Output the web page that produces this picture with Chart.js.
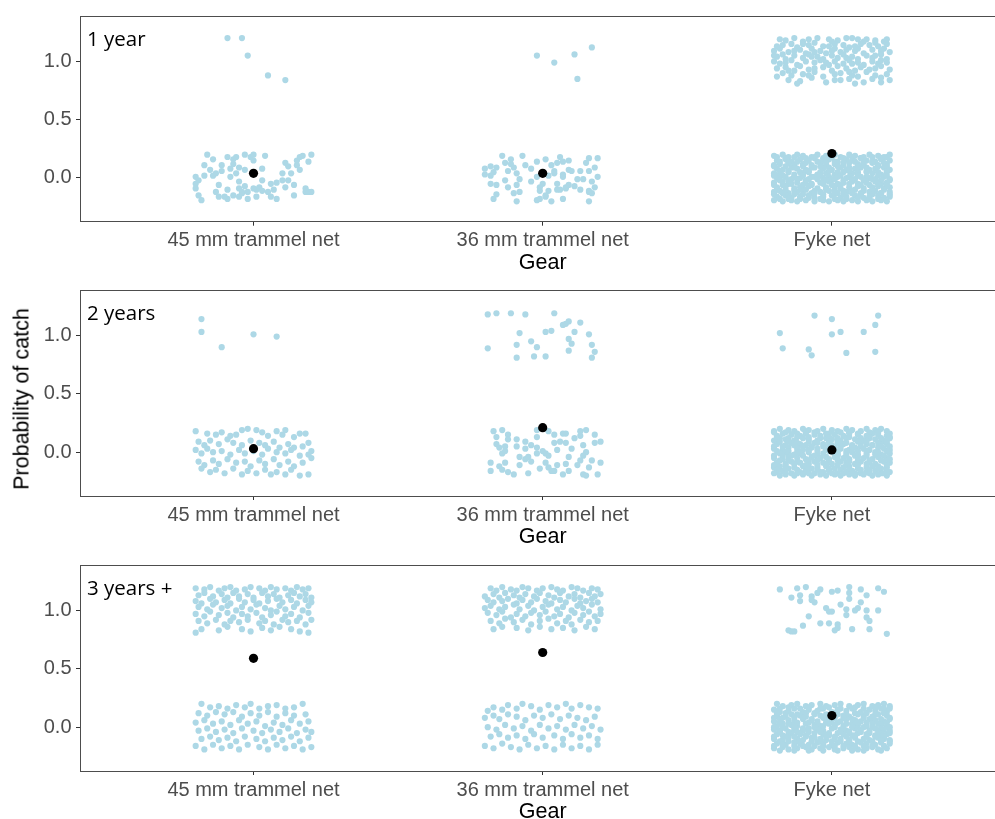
<!DOCTYPE html>
<html>
<head>
<meta charset="utf-8">
<script src="https://cdn.jsdelivr.net/npm/chart.js@4.4.1/dist/chart.umd.min.js"></script>
<style>
  html, body { margin: 0; padding: 0; background: #fff; }
  #wrap { position: relative; width: 995px; height: 819px; overflow: hidden; }
  #wrap canvas { position: absolute; left: 0; }
  #ytitle { position: absolute; left: 22px; top: 399px; width: 0; height: 0; }
  #ytitle span {
    position: absolute; left: 0; top: 0; white-space: nowrap;
    transform: translate(-50%, -50%) rotate(-90deg);
    font: 21.5px "Liberation Sans", Arial, sans-serif; color: #000;
  }
</style>
</head>
<body>
<div id="wrap">
  <canvas id="p1" width="1010" height="276" style="top:0px"></canvas>
  <canvas id="p2" width="1010" height="276" style="top:274px"></canvas>
  <canvas id="p3" width="1010" height="276" style="top:549px"></canvas>
  <div id="ytitle"><span>Probability of catch</span></div>
</div>
<script>
// Gear categories and age classes
const gearLabels = ['45 mm trammel net', '36 mm trammel net', 'Fyke net'];
const ageClasses = ['1 year', '2 years', '3 years +'];
const yTickValues = [0, 0.5, 1];

// Estimated probability of catch per gear (black points)
const meanAge1 = [0.04, 0.04, 0.21];
const meanAge2 = [0.03, 0.21, 0.02];
const meanAge3 = [0.59, 0.64, 0.10];

// Jittered observations: flat lists of (x offset, y offset) pairs in hundredths,
// around gear position and outcome (1 = caught, 0 = not caught)
const age1Mesh45Caught = [-9,20, -4,20, -2,5, 5,-12, 11,-16];
const age1Mesh45Missed = [-20,1, -20,-5, -20,-9, -19,-15, -18,-19, -19,-2, -17,11, -16,20, -15,7, -14,16, -13,4, -12,-6, -12,-16, -11,11, -11,6, -9,18, -8,8, -8,1, -9,-10, -9,-18, -7,16, -7,12, -6,18, -6,4, -5,-3, -5,-16, -4,-13, -3,20, -3,-7, -2,-18, -2,-12, -1,18, 0,20, 0,15, 1,-10, 1,-16, 2,-8, 3,8, 3,-2, 4,19, 5,-12, 6,-5, 7,-10, 8,-18, 8,-4, 10,4, 11,13, 11,-8, 12,10, 12,-2, 13,4, 14,-6, 14,-15, 15,11, 15,15, 16,7, 16,18, 17,19, 18,-9, 18,-12, 19,14, 19,-12, 20,20, 20,-12, -7,-15, -4,-12, 0,-9, 3,-11, 6,-16, -13,-12, -17,2, -3,7, -5,9, 10,-2, -14,2, -10,-16, -5,-9];
const age1Mesh36Caught = [-2,5, 4,-1, 11,6, 17,12, 12,-15];
const age1Mesh36Missed = [-14,19, -11,16, -7,19, -2,14, 1,16, 6,18, 7,14, 9,15, 16,17, 19,17, -18,10, -16,9, -13,13, -11,12, -6,11, -4,8, 3,11, 4,6, 5,13, 9,7, 15,13, 18,9, -20,3, -18,2, -17,5, -12,6, -9,4, 4,4, 7,3, 10,6, 13,6, 14,-1, 16,6, 19,1, -8,-1, -13,-2, -4,-3, -2,1, 2,2, 7,1, 12,-1, 17,-3, -18,-5, -16,-6, -9,-6, 0,-5, 5,-5, 8,-8, 9,-6, 11,-7, 16,-11, 18,-8, -16,-14, -10,-13, -8,-12, -1,-11, 1,-15, 2,-11, 5,-10, 6,-10, 8,-9, 17,-13, -17,-18, -9,-20, -2,-19, -1,-18, 3,-20, 7,-18, 16,-20, 16,-12, -20,8, -10,9, -1,-8, -12,-8, 13,-10, 1,-16];
const age1FykeCaught = [-16,18, -13,20, -10,17, -5,20, -1,19, 2,18, 5,20, 7,20, 9,19, 12,19, 15,18, 18,17,
  -19,13, -14,15, -12,12, -8,14, -6,16, -3,13, 1,15, 4,14, 6,12, 10,15, 13,14, 16,13, 19,15,
  -20,9, -18,11, -15,8, -11,10, -9,7, -7,11, -4,9, -2,7, 1,11, 3,8, 5,10, 8,9, 11,7, 14,10, 17,9, 20,8,
  -19,4, -17,6, -16,2, -13,5, -10,3, -8,6, -5,4, -3,2, 0,5, 2,3, 4,6, 7,4, 9,2, 12,5, 14,3, 17,6, 19,2,
  -20,0, -18,-2, -14,1, -12,-3, -9,0, -6,-1, -4,1, -1,-3, 1,0, 4,-2, 6,1, 9,-1, 11,-3, 14,0, 16,-2, 19,-1,
  -19,-6, -16,-5, -13,-8, -11,-4, -8,-7, -3,-5, 0,-8, 2,-4, 5,-6, 8,-8, 10,-5, 13,-7, 17,-4, 20,-7,
  -17,-10, -14,-12, -10,-11, -6,-9, -3,-13, 1,-11, 3,-10, 7,-12, 12,-9, 15,-12, 19,-11,
  -15,-16, -11,-17, -7,-14, -2,-18, 3,-16, 6,-15, 8,-19, 14,-15, 17,-18, 20,-16,
  -18,19, -8,19, 0,17, 11,17, 19,19, -17,14, -10,15, -1,13, 8,13, 15,16, -13,9, -6,8, 0,9, 9,11, 18,11,
  -20,5, -7,4, 5,3, 15,5, -16,-1, -2,-1, 7,-2, 17,1, -15,-8, -6,-6, 6,-9, 15,-6, -19,-13, -8,-12, 9,-13,
  17,-14, -12,-19, 1,-16, 11,-18];
const age1FykeMissed = [-20,19, -17,20, -15,18, -12,20, -10,19, -7,18, -5,20, -2,19, 1,20, 3,18, 6,20, 8,19, 11,18, 13,20, 16,19, 18,18, 20,20,
  -19,15, -16,16, -14,14, -11,16, -8,15, -6,17, -3,15, -1,16, 2,14, 5,16, 7,15, 10,17, 12,15, 15,14, 17,16, 20,15,
  -20,11, -18,12, -15,13, -13,11, -10,12, -7,11, -4,13, -2,11, 1,12, 4,11, 6,13, 9,12, 11,11, 14,13, 16,11, 19,12,
  -19,8, -17,7, -14,9, -12,8, -9,7, -6,9, -3,8, 0,7, 3,9, 5,7, 8,8, 10,9, 13,7, 15,8, 18,9, 20,7,
  -20,4, -18,3, -15,5, -13,3, -10,4, -8,5, -5,3, -2,4, 1,3, 4,5, 7,4, 9,3, 12,5, 14,4, 17,3, 19,5,
  -19,0, -16,1, -14,-1, -11,0, -8,-1, -6,1, -3,0, 0,-1, 2,1, 5,0, 8,-1, 10,1, 13,0, 15,-1, 18,1, 20,-1,
  -20,-4, -17,-3, -15,-5, -12,-4, -9,-3, -7,-5, -4,-4, -1,-3, 2,-5, 4,-4, 7,-3, 9,-5, 12,-4, 15,-3, 17,-5, 19,-4,
  -19,-8, -16,-7, -13,-9, -11,-8, -8,-7, -5,-9, -2,-8, 1,-7, 3,-9, 6,-8, 9,-7, 11,-9, 14,-8, 16,-7, 18,-9, 20,-8,
  -20,-12, -18,-11, -15,-13, -12,-12, -10,-11, -7,-13, -4,-12, -1,-11, 2,-13, 5,-12, 7,-11, 10,-13, 13,-12, 15,-11, 17,-13, 20,-12,
  -19,-16, -16,-15, -14,-17, -11,-16, -8,-15, -6,-17, -3,-16, 0,-15, 3,-17, 5,-16, 8,-15, 11,-17, 13,-16, 16,-15, 18,-17, 20,-16,
  -20,-19, -17,-20, -14,-19, -12,-20, -9,-19, -6,-20, -3,-19, -1,-20, 2,-19, 4,-20, 7,-19, 9,-20, 12,-19, 14,-20, 17,-19, 19,-20,
  -19,18, -16,17, -13,18, -9,17, -6,18, -3,17, 0,18, 4,17, 7,18, 10,17, 14,18, 17,17, 19,18,
  -18,14, -15,13, -12,14, -9,13, -5,14, -2,13, 1,14, 4,13, 8,14, 11,13, 14,14, 18,13,
  -20,10, -16,10, -13,9, -10,10, -7,9, -4,10, -1,9, 2,10, 6,9, 9,10, 12,9, 16,10, 19,10,
  -18,6, -15,6, -11,5, -8,6, -4,5, -1,6, 2,5, 6,6, 9,5, 12,6, 16,5, 19,6,
  -20,2, -17,2, -13,1, -10,2, -7,1, -4,2, -1,1, 3,2, 6,1, 9,2, 12,1, 16,2, 19,2,
  -18,-2, -15,-2, -12,-1, -9,-2, -5,-1, -2,-2, 1,-1, 4,-2, 7,-1, 11,-2, 14,-1, 17,-2, 20,-2,
  -20,-6, -17,-6, -14,-5, -10,-6, -7,-6, -3,-5, 0,-6, 3,-6, 6,-5, 10,-6, 13,-6, 16,-5, 19,-6,
  -19,-10, -16,-10, -13,-11, -9,-10, -6,-11, -2,-10, 1,-10, 4,-11, 8,-10, 11,-11, 14,-10, 18,-10,
  -20,-14, -17,-13, -13,-14, -10,-14, -6,-13, -3,-14, 1,-13, 4,-14, 7,-13, 10,-14, 14,-14, 17,-13, 20,-14,
  -18,-18, -15,-18, -11,-18, -8,-17, -4,-18, 1,-18, 5,-18, 9,-17, 13,-18, 16,-18];

const age2Mesh45Caught = [-18,14, -18,3, -11,-10, 0,1, 8,-1];
const age2Mesh45Missed = [-20,18, -16,16, -13,15, -11,17, -8,14, -6,15, -4,19, -2,20, 1,19, 3,17, 5,14, 8,18, 10,15, 11,19, 14,13, 16,16, 18,16,
  -19,9, -17,6, -15,10, -12,7, -9,11, -7,8, -4,6, -1,10, 2,8, 4,6, 7,9, 9,4, 12,7, 14,4, 17,5, 19,8,
  -20,2, -18,-1, -16,3, -14,0, -11,1, -8,-2, -5,2, -3,-1, 0,1, 3,-2, 5,3, 8,0, 11,-1, 13,2, 16,-3, 19,-2, 20,1,
  -19,-8, -17,-11, -14,-7, -12,-10, -9,-6, -6,-9, -3,-8, -1,-12, 2,-7, 4,-10, 7,-6, 9,-11, 12,-8, 14,-12, 17,-9, 20,-5,
  -18,-14, -15,-17, -13,-15, -10,-18, -7,-14, -4,-19, -2,-16, 1,-18, 4,-15, 6,-19, 8,-17, 11,-19, 13,-15, 16,-20, 19,-19];
const age2Mesh36Caught = [-19,18, -16,19, -11,19, -6,18, 4,19, -8,2, -19,-11, -9,-8, -4,-5, -2,-10, -9,-19, -3,-18, 1,-18, 1,3, 3,4, 7,9, 8,10, 9,12, 13,11, 11,3, 16,1, 9,-3, 10,-7, 9,-13, 17,-8, 18,-14, 17,-19];
const age2Mesh36Missed = [-17,18, -14,19, -2,19, 2,18, 4,15, 7,16, 8,16, 13,18, 15,19, -16,13, -12,15, -9,11, -6,9, -2,13, 4,8, 6,9, 8,8, 11,12, 13,14, 18,15, 20,9, 18,8, -16,7, -13,5, -12,11, -9,5, -4,6, -2,4, 1,-1, 2,-3, 5,2, 10,3, 14,6, 15,0, -14,-1, -8,-4, -6,-6, -5,-4, -2,-1, 0,1, 5,-11, 9,-4, 14,-3, 17,-7, -18,-9, -15,-12, -13,-9, -8,-11, -4,-8, 1,-9, 2,-13, 4,-16, 8,-10, 12,-11, 16,-13, 20,-9, -18,-16, -14,-15, -12,-17, -10,-19, -5,-18, 3,-16, 7,-19, 14,-19, 15,-20, 19,-19, -13,1, -6,3, 13,-7, -1,-14, 9,-16, -15,4];
const age2FykeCaught = [-6,17, 0,14, 16,17, 15,9, -18,2, 0,1, 3,3, 11,3, -17,-11, -8,-12, -7,-17, 5,-15, 15,-14];
const age2FykeMissed = [-20,18, -18,20, -15,19, -13,18, -10,20, -8,19, -5,18, -3,20, 0,19, 2,18, 5,20, 7,19, 10,18, 12,20, 15,19, 17,20, 19,18,
  -19,14, -17,16, -14,15, -11,14, -9,16, -6,15, -4,14, -1,16, 1,15, 4,14, 6,16, 9,15, 12,14, 14,16, 16,15, 19,14,
  -20,10, -18,12, -16,11, -13,10, -10,12, -8,11, -5,10, -2,12, 0,11, 3,10, 5,12, 8,11, 11,10, 13,12, 15,11, 18,10, 20,12,
  -19,7, -16,6, -14,8, -11,7, -9,6, -6,8, -3,7, -1,6, 2,8, 4,7, 7,6, 10,8, 12,7, 14,6, 17,8, 19,7,
  -20,3, -17,2, -15,4, -12,3, -10,2, -7,4, -5,3, -2,2, 1,4, 3,3, 6,2, 8,4, 11,3, 13,2, 16,4, 18,3, 20,2,
  -18,-1, -16,0, -13,-2, -11,-1, -8,0, -5,-2, -3,-1, 0,0, 2,-2, 5,-1, 7,0, 9,-2, 12,-1, 15,0, 17,-2, 20,-1,
  -20,-5, -17,-6, -15,-4, -12,-5, -9,-6, -7,-4, -4,-5, -1,-6, 1,-4, 4,-5, 6,-6, 9,-4, 11,-5, 14,-6, 16,-4, 19,-5,
  -19,-9, -16,-10, -14,-8, -11,-9, -8,-10, -6,-8, -3,-9, 0,-10, 3,-8, 5,-9, 8,-10, 10,-8, 13,-9, 15,-10, 18,-8, 20,-9,
  -20,-13, -18,-12, -15,-14, -13,-13, -10,-12, -7,-14, -5,-13, -2,-12, 1,-14, 4,-13, 6,-12, 9,-14, 12,-13, 14,-12, 17,-14, 19,-13,
  -19,-17, -17,-16, -14,-18, -11,-17, -9,-16, -6,-18, -3,-17, -1,-16, 2,-18, 5,-17, 7,-16, 10,-18, 12,-17, 15,-16, 17,-18, 20,-17,
  -18,-20, -16,-19, -13,-20, -10,-19, -7,-20, -4,-19, -2,-20, 1,-19, 3,-20, 6,-19, 8,-20, 11,-19, 14,-20, 16,-19, 19,-20,
  -20,17, -16,17, -12,16, -9,17, -6,17, -2,16, 3,17, 6,17, 9,16, 13,17, 16,17, 20,16,
  -19,13, -15,12, -12,13, -8,13, -4,12, -1,13, 2,12, 6,13, 10,12, 13,13, 17,12, 20,13,
  -18,9, -15,9, -12,8, -8,9, -5,8, -1,9, 2,9, 5,8, 9,9, 12,9, 16,8, 19,9,
  -20,5, -17,5, -13,6, -10,5, -7,5, -3,5, 0,6, 3,5, 7,5, 10,5, 14,6, 17,5, 20,5,
  -19,1, -15,1, -12,0, -8,2, -5,1, -1,1, 2,0, 5,1, 9,1, 12,1, 16,0, 19,1,
  -20,-3, -17,-3, -14,-3, -10,-3, -6,-3, -2,-4, 2,-3, 5,-3, 8,-3, 12,-3, 15,-2, 18,-3,
  -18,-7, -15,-7, -12,-8, -8,-7, -5,-7, -1,-8, 2,-7, 6,-8, 9,-7, 13,-7, 17,-7, 20,-6,
  -20,-11, -16,-11, -13,-10, -9,-11, -5,-11, -2,-10, 2,-11, 5,-11, 9,-11, 12,-10, 16,-12, 19,-11,
  -19,-15, -16,-14, -12,-15, -8,-14, -5,-15, -1,-14, 3,-15, 6,-14, 10,-15, 13,-15, 16,-14, 19,-16,
  -20,-18, -16,-18, -12,-18, -8,-18, -4,-17, 0,-18, 4,-18, 8,-18, 13,-18, 18,-18];

const age3Mesh45Caught = [-20,19, -17,18, -15,20, -12,17, -10,19, -8,20, -6,17, -3,18, -1,20, 2,19, 4,17, 6,20, 8,18, 11,19, 13,17, 15,20, 17,18, 19,19,
  -19,13, -17,15, -14,12, -11,14, -9,11, -7,15, -5,12, -2,14, 0,11, 3,15, 5,12, 7,14, 9,11, 12,13, 14,15, 16,12, 18,14, 20,11,
  -20,8, -18,6, -15,10, -13,7, -10,9, -8,6, -5,10, -3,7, 0,9, 2,6, 5,8, 8,10, 10,7, 13,9, 15,6, 18,9, 20,7,
  -19,3, -16,1, -14,5, -11,2, -9,4, -6,0, -4,3, -1,1, 1,5, 4,2, 6,0, 9,4, 11,1, 14,3, 17,0, 19,4,
  -20,-3, -17,-5, -15,-1, -12,-4, -9,-2, -7,-6, -4,-3, -2,-5, 1,-2, 3,-6, 6,-4, 8,-1, 11,-5, 13,-3, 16,-6, 19,-2,
  -19,-9, -16,-11, -13,-8, -10,-12, -8,-9, -5,-10, -2,-8, 2,-11, 4,-9, 7,-12, 10,-8, 12,-10, 15,-9, 18,-12, 20,-8,
  -20,-19, -18,-16, -12,-17, -9,-14, -4,-16, -1,-18, 3,-15, 6,-17, 9,-14, 13,-16, 16,-18, 19,-19];
const age3Mesh45Missed = [-18,20, -15,17, -12,18, -9,16, -6,19, -3,17, -1,20, 2,16, 5,18, 8,19, 11,16, 14,17, 17,20,
  -19,12, -16,10, -13,13, -10,11, -7,13, -4,9, -1,12, 2,10, 5,13, 8,9, 11,12, 14,10, 18,11,
  -20,4, -17,6, -14,3, -11,5, -8,2, -5,6, -2,3, 1,5, 4,1, 7,4, 10,2, 13,6, 16,3, 19,5,
  -19,-3, -16,-1, -13,-4, -10,-2, -7,-5, -4,-1, 0,-3, 3,-5, 6,-2, 9,-4, 12,-1, 15,-5, 18,-2, 20,-4,
  -18,-10, -15,-8, -12,-11, -9,-9, -6,-12, -3,-8, 1,-10, 4,-12, 7,-9, 10,-11, 13,-8, 16,-12, 19,-9,
  -20,-16, -17,-19, -14,-15, -11,-18, -8,-16, -5,-19, -2,-15, 2,-17, 5,-19, 8,-15, 11,-18, 14,-16, 17,-19, 20,-17];
const age3Mesh36Caught = [-18,19, -16,17, -14,20, -11,18, -9,17, -7,20, -5,19, -2,17, 0,19, 3,20, 5,18, 7,17, 10,20, 12,19, 14,17, 17,19, 19,18,
  -20,12, -17,14, -15,11, -13,15, -10,13, -8,11, -6,14, -3,12, -1,15, 2,13, 4,11, 6,15, 9,12, 11,14, 13,11, 16,15, 18,12, 20,14,
  -19,9, -17,7, -14,8, -12,10, -9,6, -7,9, -4,7, -2,10, 1,8, 3,6, 6,9, 8,7, 11,10, 13,6, 15,8, 17,10, 19,7,
  -20,2, -18,4, -15,1, -13,3, -10,5, -8,1, -5,4, -3,0, 0,3, 2,5, 5,1, 7,3, 10,0, 12,4, 14,2, 17,5, 20,1,
  -19,-2, -16,-4, -14,-1, -11,-6, -9,-3, -6,-5, -4,-2, -1,-4, 1,-1, 4,-5, 6,-3, 9,-6, 11,-2, 14,-4, 16,-1, 18,-5, 20,-3,
  -18,-9, -15,-11, -13,-7, -10,-10, -7,-8, -4,-12, -1,-9, 2,-7, 5,-11, 8,-9, 10,-12, 13,-8, 16,-10, 19,-9,
  -17,-16, -14,-14, -9,-15, -5,-17, -1,-14, 3,-16, 7,-15, 11,-17, 15,-14, 18,-16];
const age3Mesh36Missed = [-19,14, -17,17, -14,15, -12,19, -9,16, -7,20, -4,18, -1,15, 2,19, 5,17, 8,20, 10,16, 13,19, 16,17, 19,16,
  -20,8, -17,10, -15,7, -12,11, -9,9, -6,6, -3,10, 0,8, 3,11, 6,7, 9,10, 12,8, 15,6, 18,9,
  -19,0, -16,-2, -13,2, -10,-1, -7,1, -4,-3, -1,2, 2,-1, 5,1, 8,-2, 11,2, 14,-1, 17,1, 20,-2,
  -18,-8, -15,-6, -12,-9, -9,-7, -6,-10, -3,-6, 0,-9, 4,-7, 7,-10, 10,-6, 13,-9, 16,-7, 19,-10,
  -20,-16, -17,-18, -14,-14, -11,-17, -8,-19, -5,-15, -2,-18, 1,-16, 4,-19, 7,-15, 10,-18, 13,-16, 16,-19, 19,-15];
const age3FykeCaught = [-18,18, -12,19, -9,20, -4,18, 0,16, 2,17, 6,20, 10,18, 16,19, 18,16, -14,11, -11,13, -11,8, -7,12, -6,7, -5,15, 6,15, 12,13, 3,5, -2,2, -1,-1, 0,-1, 5,1, 8,0, 9,2, 10,7, 12,0, 16,0, -8,-5, 5,-4, 12,-6, 13,-9, -10,-13, -4,-11, -1,-11, 2,-12, 2,-15, 1,-17, 7,-16, 13,-16, -15,-17, -14,-18, -13,-18, 19,-20, -7,9, 6,10];
const age3FykeMissed = [-19,20, -17,18, -14,19, -12,20, -9,18, -7,19, -4,20, -2,18, 1,19, 3,20, 6,18, 9,19, 11,20, 14,18, 16,19, 18,20, 20,18,
  -20,15, -18,13, -15,14, -13,16, -10,13, -8,15, -5,14, -3,16, 0,13, 2,15, 5,14, 7,16, 10,13, 13,15, 15,14, 17,16, 19,13,
  -19,10, -16,9, -14,11, -11,10, -9,9, -6,11, -4,10, -1,9, 2,11, 4,10, 6,9, 9,11, 11,10, 14,9, 16,11, 19,10,
  -20,5, -18,7, -15,6, -13,5, -10,7, -7,6, -5,5, -2,7, 0,6, 3,5, 5,7, 8,6, 10,5, 13,7, 15,6, 18,5, 20,7,
  -19,1, -17,3, -14,2, -12,1, -9,3, -6,2, -4,1, -1,3, 1,2, 4,1, 7,3, 9,2, 12,1, 14,3, 17,2, 19,1,
  -20,-2, -18,-3, -16,-1, -13,-2, -10,-3, -8,-1, -5,-2, -3,-3, 0,-1, 3,-2, 5,-3, 8,-1, 10,-2, 13,-3, 15,-1, 18,-2, 20,-3,
  -19,-6, -17,-7, -14,-5, -11,-6, -9,-7, -6,-5, -3,-6, -1,-7, 2,-5, 4,-6, 7,-7, 9,-5, 12,-6, 15,-7, 17,-5, 19,-6,
  -20,-10, -17,-11, -15,-9, -12,-10, -10,-11, -7,-9, -4,-10, -2,-11, 1,-9, 3,-10, 6,-11, 8,-9, 11,-10, 13,-11, 16,-9, 18,-10, 20,-11,
  -19,-14, -16,-15, -13,-13, -11,-14, -8,-15, -5,-13, -3,-14, 0,-15, 2,-13, 5,-14, 7,-15, 10,-13, 12,-14, 15,-15, 17,-13, 20,-14,
  -20,-18, -17,-17, -15,-19, -12,-18, -9,-17, -7,-19, -4,-18, -1,-17, 1,-19, 4,-18, 6,-17, 9,-19, 12,-18, 14,-17, 16,-19, 19,-18,
  -18,-20, -13,-20, -8,-20, -3,-20, 2,-20, 7,-20, 11,-20, 17,-20,
  -18,16, -15,17, -11,16, -8,17, -4,16, -1,17, 3,16, 8,17, 11,16, 15,17, 18,16, 20,16,
  -19,12, -16,12, -12,11, -9,12, -6,12, -2,11, 1,12, 5,11, 8,12, 12,12, 15,11, 18,12,
  -20,8, -17,8, -13,8, -10,8, -7,7, -3,8, 1,8, 4,8, 7,7, 11,8, 14,8, 17,7, 20,8,
  -18,4, -15,3, -12,4, -8,4, -5,3, -2,4, 2,4, 5,3, 9,4, 12,4, 16,3, 19,4,
  -20,0, -17,0, -13,0, -10,-1, -6,0, -3,1, 1,0, 4,-1, 7,0, 11,0, 14,0, 17,-1, 20,0,
  -18,-4, -15,-4, -12,-4, -8,-4, -4,-4, -1,-5, 3,-4, 6,-4, 10,-4, 13,-5, 16,-4, 20,-5,
  -20,-8, -16,-8, -13,-8, -9,-8, -6,-9, -2,-8, 1,-8, 5,-8, 8,-7, 12,-8, 15,-8, 18,-8,
  -18,-12, -15,-12, -11,-12, -7,-12, -4,-12, 0,-12, 3,-12, 6,-12, 9,-12, 14,-12, 17,-11, 20,-12,
  -20,-16, -17,-15, -13,-16, -10,-16, -6,-16, -3,-16, 1,-16, 4,-16, 8,-16, 11,-16, 14,-16, 18,-16];

// ---- drawing ----
const AXIS_FONT = '"Liberation Sans", Arial, sans-serif';
const PANEL_H = 207;      // plot panel height
const Y_AXIS_W = 80;      // room for the y tick labels

function toPoints(gearPos, outcome, offsets) {
  const pts = [];
  for (let i = 0; i < offsets.length; i += 2) {
    pts.push({ x: gearPos + offsets[i] / 100, y: outcome + offsets[i + 1] / 100 });
  }
  return pts;
}

const panelFrame = {
  id: 'panelFrame',
  afterDraw(chart, args, opts) {
    const { ctx, chartArea: a } = chart;
    ctx.save();
    ctx.strokeStyle = '#4d4d4d';
    ctx.lineWidth = 1;
    const l = Math.floor(a.left) + 0.5, t = Math.floor(a.top) + 0.5;
    const b = Math.floor(a.bottom) + 0.5, r = Math.floor(a.right) + 0.5;
    ctx.strokeRect(l, t, r - l, b - t);
    ctx.fillStyle = '#000';
    ctx.font = '20.5px "Open Sans", sans-serif';
    ctx.textBaseline = 'alphabetic';
    ctx.textAlign = 'left';
    ctx.fillText(opts.label, a.left + 7, a.top + 29.5);
    ctx.restore();
  }
};

function drawPanel(canvasId, label, means, padTop, groups) {
  const pointSets = [];
  groups.forEach(([gearPos, outcome, offs]) => pointSets.push(...toPoints(gearPos, outcome, offs)));
  const canvas = document.getElementById(canvasId);
  const xAxisH = canvas.height - padTop - PANEL_H;
  new Chart(canvas, {
    type: 'scatter',
    data: {
      datasets: [
        {
          data: means.map((m, i) => ({ x: i + 1, y: m })),
          backgroundColor: '#000', borderWidth: 0, pointRadius: 4.6, order: 0
        },
        {
          data: pointSets,
          backgroundColor: '#ADD8E6', borderWidth: 0, pointRadius: 3.1, order: 1
        }
      ]
    },
    options: {
      responsive: false, animation: false, events: [],
      layout: { padding: { top: padTop, left: 0, right: 0, bottom: 0 } },
      plugins: { legend: { display: false }, tooltip: { enabled: false }, panelFrame: { label } },
      scales: {
        x: {
          type: 'linear', min: 0.4, max: 3.6,
          afterBuildTicks: s => { s.ticks = gearLabels.map((_, i) => ({ value: i + 1 })); },
          afterFit: s => { s.height = xAxisH; },
          ticks: {
            callback: v => gearLabels[Math.round(v) - 1],
            color: '#4D4D4D', font: { family: AXIS_FONT, size: 20 },
            padding: 3, maxRotation: 0, autoSkip: false
          },
          grid: { drawOnChartArea: false, drawTicks: true, tickLength: 4, color: '#333' },
          border: { display: false },
          title: {
            display: true, text: 'Gear', color: '#000',
            font: { family: AXIS_FONT, size: 21.5 }, padding: { top: 0, bottom: 0 }
          }
        },
        y: {
          type: 'linear', min: -0.375, max: 1.385,
          afterBuildTicks: s => { s.ticks = yTickValues.map(v => ({ value: v })); },
          afterFit: s => { s.width = Y_AXIS_W; },
          ticks: {
            callback: v => v.toFixed(1),
            color: '#4D4D4D', font: { family: AXIS_FONT, size: 20 }, padding: 4.5
          },
          grid: { drawOnChartArea: false, drawTicks: true, tickLength: 4, color: '#333' },
          border: { display: false }
        }
      }
    },
    plugins: [panelFrame]
  });
}

drawPanel('p1', ageClasses[0], meanAge1, 14.7, [
  [1, 1, age1Mesh45Caught], [1, 0, age1Mesh45Missed],
  [2, 1, age1Mesh36Caught], [2, 0, age1Mesh36Missed],
  [3, 1, age1FykeCaught], [3, 0, age1FykeMissed]
]);
drawPanel('p2', ageClasses[1], meanAge2, 15, [
  [1, 1, age2Mesh45Caught], [1, 0, age2Mesh45Missed],
  [2, 1, age2Mesh36Caught], [2, 0, age2Mesh36Missed],
  [3, 1, age2FykeCaught], [3, 0, age2FykeMissed]
]);
drawPanel('p3', ageClasses[2], meanAge3, 15, [
  [1, 1, age3Mesh45Caught], [1, 0, age3Mesh45Missed],
  [2, 1, age3Mesh36Caught], [2, 0, age3Mesh36Missed],
  [3, 1, age3FykeCaught], [3, 0, age3FykeMissed]
]);
</script>
</body>
</html>
